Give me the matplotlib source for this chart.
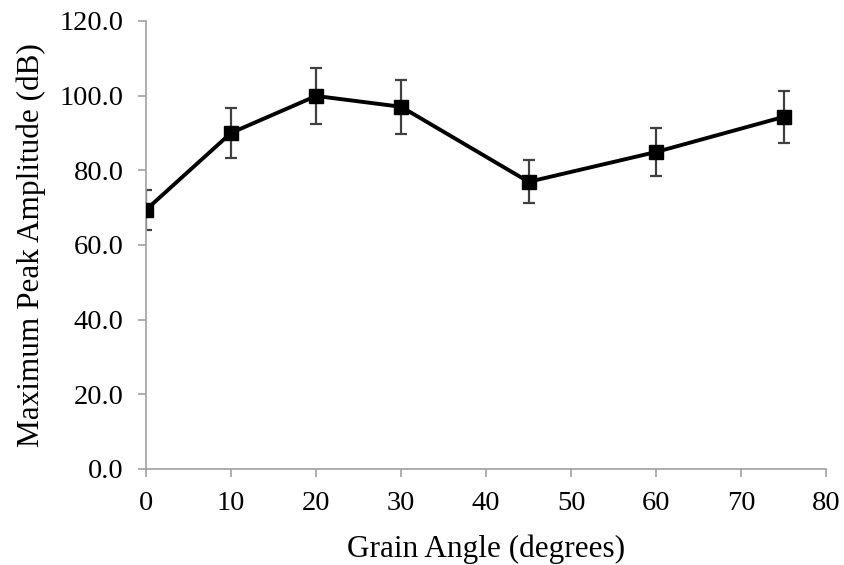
import matplotlib.pyplot as plt
from matplotlib.ticker import FormatStrFormatter

# Data
grain_angle = [0, 10, 20, 30, 45, 60, 75]
peak_amp = [69.4, 90.0, 99.9, 97.0, 76.9, 84.9, 94.3]
peak_err = [5.3, 6.6, 7.4, 7.3, 5.8, 6.4, 7.0]

plt.rcParams['font.family'] = ['Liberation Serif', 'DejaVu Serif']

fig = plt.figure(figsize=(8.44, 5.65), dpi=100)
ax = fig.add_axes([0.173, 0.170, 0.806, 0.793])

ax.errorbar(grain_angle, peak_amp, yerr=peak_err, fmt='none',
            ecolor='#404040', elinewidth=1.6, capsize=4.5, capthick=1.6, zorder=2)
ax.plot(grain_angle, peak_amp, color='black', linewidth=2.8,
        marker='s', markersize=10, zorder=3)

ax.set_xlim(0, 80)
ax.set_ylim(0, 120)
ax.set_xticks(range(0, 81, 10))
ax.set_yticks(range(0, 121, 20))
ax.yaxis.set_major_formatter(FormatStrFormatter('%.1f'))

for side in ['top', 'right']:
    ax.spines[side].set_visible(False)
for side in ['left', 'bottom']:
    ax.spines[side].set_color('#a0a0a0')
    ax.spines[side].set_linewidth(1.2)

ax.tick_params(axis='both', colors='#a0a0a0', labelcolor='black',
               labelsize=20.5, length=6, width=1.2, direction='out')
ax.tick_params(axis='x', pad=10)
ax.tick_params(axis='y', pad=10)

ax.set_xlabel('Grain Angle (degrees)', fontsize=22.5, labelpad=13)
ax.set_ylabel('Maximum Peak Amplitude (dB)', fontsize=22.5, labelpad=10)

fig.savefig('out.png', dpi=100)
